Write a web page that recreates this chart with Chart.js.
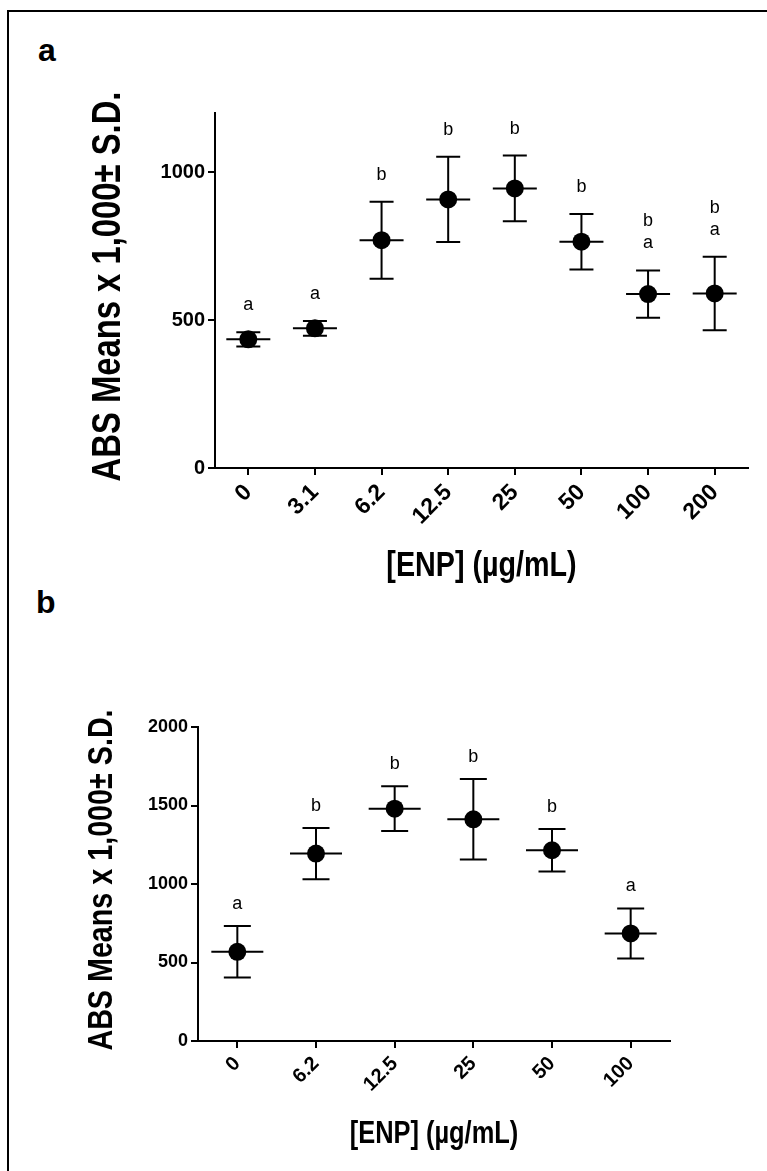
<!DOCTYPE html>
<html>
<head>
<meta charset="utf-8">
<script src="https://cdn.jsdelivr.net/npm/chart.js@4.4.1/dist/chart.umd.min.js"></script>
<style>
  html, body { margin: 0; padding: 0; background: #fff; }
  #page { position: relative; width: 767px; height: 1171px; overflow: hidden; background: #fff; }
  #frame { position: absolute; left: 7px; top: 10px; width: 780px; height: 1200px;
           border-left: 2px solid #000; border-top: 2px solid #000; }
  .panel-tag { position: absolute; font: bold 32px 'Liberation Sans', Arial, sans-serif; line-height: 32px; color: #000; }
  .box { position: absolute; left: 0; width: 767px; }
</style>
</head>
<body>
<div id="page">
  <div id="frame"></div>
  <div class="panel-tag" style="left:38px; top:34px;">a</div>
  <div class="panel-tag" style="left:36px; top:586px;">b</div>
  <div class="box" style="top:0; height:610px;"><canvas id="chartA"></canvas></div>
  <div class="box" style="top:610px; height:561px;"><canvas id="chartB"></canvas></div>
</div>
<script>
// panel a
const dosesA = ['0', '3.1', '6.2', '12.5', '25', '50', '100', '200'];
const meansA = [435, 472, 770, 908, 945, 765, 588, 590];
const sdA    = [24, 25, 130, 144, 111, 94, 80, 124];
const lettersA = [['a'], ['a'], ['b'], ['b'], ['b'], ['b'], ['a', 'b'], ['a', 'b']]; // bottom -> top
const yTicksA = [0, 500, 1000];

// panel b
const dosesB = ['0', '6.2', '12.5', '25', '50', '100'];
const meansB = [568, 1194, 1480, 1412, 1215, 685];
const sdB    = [164, 163, 143, 256, 136, 159];
const lettersB = [['a'], ['b'], ['b'], ['b'], ['b'], ['a']];
const yTicksB = [0, 500, 1000, 1500, 2000];

const Y_TITLE = 'ABS Means x 1,000\u00B1 S.D.';
const X_TITLE = '[ENP] (\u00B5g/mL)';
const SANS = "'Liberation Sans', Arial, sans-serif";
const NARROW_K = 0.82; // no Arial Narrow here, squeeze Liberation Sans instead

// error bars, mean line and significance letters
const errBars = {
  id: 'errBars',
  afterDatasetsDraw(chart, args, o){
    const {ctx, scales:{x, y}} = chart;
    const ds = chart.data.datasets[0];
    ctx.save();
    ctx.strokeStyle = '#000';
    ctx.lineWidth = 2;
    ds.data.forEach((m, i) => {
      const px = x.getPixelForValue(i);
      const hi = y.getPixelForValue(m + o.sd[i]);
      const lo = y.getPixelForValue(m - o.sd[i]);
      const py = y.getPixelForValue(m);
      ctx.beginPath();
      ctx.moveTo(px, hi); ctx.lineTo(px, lo);
      ctx.moveTo(px - o.cap/2, hi); ctx.lineTo(px + o.cap/2, hi);
      ctx.moveTo(px - o.cap/2, lo); ctx.lineTo(px + o.cap/2, lo);
      ctx.moveTo(px - o.mean/2, py); ctx.lineTo(px + o.mean/2, py);
      ctx.stroke();
      ctx.fillStyle = '#000';
      ctx.font = '18px ' + SANS;
      ctx.textAlign = 'center';
      ctx.textBaseline = 'middle';
      o.letters[i].forEach((t, k) => {
        ctx.fillText(t, px, hi - o.gap - k * 22);
      });
    });
    ctx.restore();
  }
};

// axis titles in a condensed bold face
const axisTitles = {
  id: 'axisTitles',
  afterDraw(chart, args, o){
    const {ctx, chartArea: a} = chart;
    ctx.save();
    ctx.fillStyle = '#000';
    ctx.textAlign = 'center';
    ctx.textBaseline = 'middle';
    // y title
    ctx.save();
    ctx.translate(o.yX, (a.top + a.bottom) / 2 + o.yShift);
    ctx.rotate(-Math.PI / 2);
    ctx.scale(NARROW_K, 1);
    ctx.font = 'bold ' + o.ySize + 'px ' + SANS;
    ctx.fillText(o.yText, 0, 0);
    ctx.restore();
    // x title
    ctx.save();
    ctx.translate((a.left + a.right) / 2, o.xY);
    ctx.scale(NARROW_K, 1);
    ctx.font = 'bold ' + o.xSize + 'px ' + SANS;
    ctx.fillText(o.xText, 0, 0);
    ctx.restore();
    ctx.restore();
  }
};

function makeChart(id, cfg){
  return new Chart(document.getElementById(id), {
    type: 'line',
    data: {
      labels: cfg.labels,
      datasets: [{
        data: cfg.means,
        showLine: false,
        pointRadius: 9,
        pointHoverRadius: 9,
        pointBackgroundColor: '#000',
        pointBorderColor: '#000',
        pointBorderWidth: 0
      }]
    },
    options: {
      responsive: true,
      maintainAspectRatio: false,
      animation: false,
      events: [],
      layout: { padding: cfg.pad },
      plugins: {
        legend: { display: false },
        tooltip: { enabled: false },
        errBars: { sd: cfg.sd, letters: cfg.letters, cap: cfg.cap, mean: cfg.mean, gap: cfg.gap },
        axisTitles: { yText: Y_TITLE, xText: X_TITLE, yX: cfg.yTitleX, yShift: -4, ySize: cfg.yTitleSize, xY: cfg.xTitleY, xSize: cfg.xTitleSize }
      },
      scales: {
        x: {
          offset: true,
          grid: { display: true, offset: false, drawOnChartArea: false, drawTicks: true, tickLength: 7, color: '#000', lineWidth: 2 },
          border: { display: true, color: '#000', width: 2 },
          ticks: { color: '#000', font: { family: SANS, size: cfg.xTickSize, weight: 'bold' }, minRotation: 45, maxRotation: 45, autoSkip: false, padding: 4 },
          afterFit: s => { s.height = cfg.xHeight; }
        },
        y: {
          min: 0,
          max: cfg.yMax,
          afterBuildTicks: s => { s.ticks = cfg.yTicks.map(v => ({ value: v })); },
          grid: { display: true, drawOnChartArea: false, drawTicks: true, tickLength: 7, color: '#000', lineWidth: 2 },
          border: { display: true, color: '#000', width: 2 },
          ticks: { color: '#000', font: { family: SANS, size: cfg.yTickSize, weight: 'bold' }, padding: 3, callback: v => String(v) },
          afterFit: s => { s.width = cfg.yWidth; }
        }
      }
    },
    plugins: [errBars, axisTitles]
  });
}

makeChart('chartA', {
  labels: dosesA, means: meansA, sd: sdA, letters: lettersA, yTicks: yTicksA, yMax: 1200,
  pad: { left: 89, top: 113, right: 19, bottom: 0 },
  yWidth: 126, xHeight: 142, xTickSize: 23, yTickSize: 20,
  yTitleX: 109, yTitleSize: 40, xTitleY: 566, xTitleSize: 35,
  cap: 24, mean: 44, gap: 27
});

makeChart('chartB', {
  labels: dosesB, means: meansB, sd: sdB, letters: lettersB, yTicks: yTicksB, yMax: 2000,
  pad: { left: 85, top: 117, right: 97, bottom: 0 },
  yWidth: 113, xHeight: 130, xTickSize: 20, yTickSize: 18,
  yTitleX: 102, yTitleSize: 35, xTitleY: 524, xTitleSize: 31,
  cap: 27, mean: 52, gap: 22
});
</script>
</body>
</html>
